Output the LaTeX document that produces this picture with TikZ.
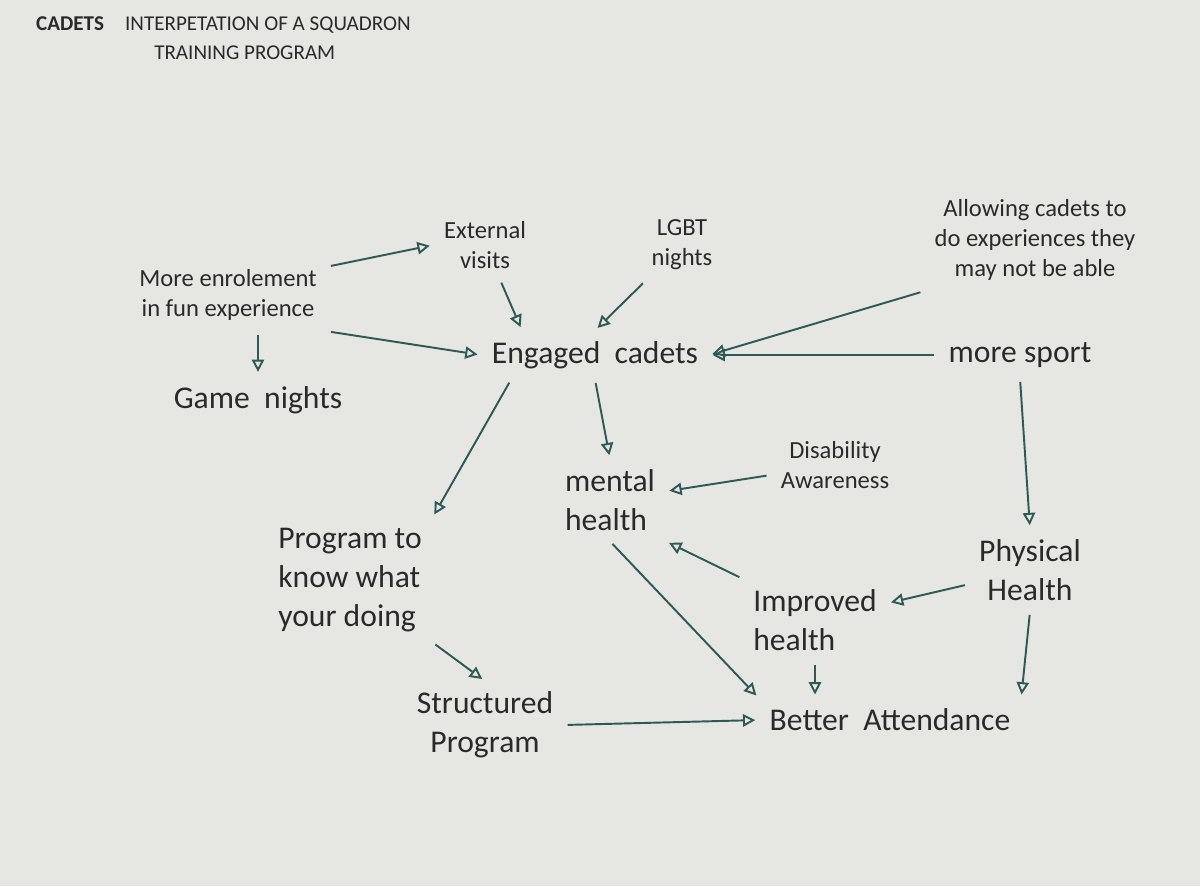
\documentclass[tikz,border=0pt]{standalone}
\usepackage{fontspec}
\setmainfont{Carlito}
\usetikzlibrary{arrows.meta}
\definecolor{paper}{HTML}{E6E6E3}
\definecolor{ink}{HTML}{2E5A55}
\definecolor{pen}{HTML}{2A2A2A}
\tikzset{
  lbl/.style={text=pen,align=center,font=\fontsize{14}{17}\selectfont,inner sep=6pt},
  big/.style={lbl,font=\fontsize{18}{22}\selectfont},
  arr/.style={draw=ink,line width=1.1pt,-{Triangle[open,length=7pt,width=7pt]},shorten >=2pt,shorten <=2pt}
}
\begin{document}
\begin{tikzpicture}[x=0.02cm,y=-0.02cm]
\fill[paper] (0,0) rectangle (1200,886);
\useasboundingbox (0,0) rectangle (1200,886);
\node[anchor=north west,text=pen,font=\fontsize{12}{17}\selectfont,align=left] (title) at (30,10) {\textbf{CADETS}\quad INTERPETATION OF A SQUADRON\\\hspace*{5.6em}TRAINING PROGRAM};
\node[lbl] (enrol) at (228,295) {More enrolement\\in fun experience};
\node[lbl] (ext) at (485,245) {External\\visits};
\node[lbl] (lgbt) at (682,245) {LGBT\\nights};
\node[lbl] (allow) at (1035,240) {Allowing cadets to\\do experiences they\\may not be able};
\node[big] (eng) at (595,355) {Engaged \ cadets};
\node[big] (sport) at (1020,355) {more sport};
\node[big] (game) at (258,400) {Game \ nights};
\node[lbl] (dis) at (835,465) {Disability\\Awareness};
\node[big,align=left] (mental) at (610,500) {mental\\health};
\node[big,align=left] (prog) at (350,580) {Program to\\know what\\your doing};
\node[big] (phys) at (1030,570) {Physical\\Health};
\node[big,align=left] (impr) at (815,620) {Improved\\health};
\node[big] (struct) at (485,725) {Structured\\Program};
\node[big] (better) at (890,720) {Better \ Attendance};
\draw[arr] (enrol.north east) ++(0,8) -- (ext.west);
\draw[arr] (ext) -- (eng.north west -| 522,0);
\draw[arr] (lgbt) -- (eng.north);
\draw[arr] (allow.south west) -- (eng.east);
\draw[arr] (enrol.south east) -- (eng.west);
\draw[arr] (sport) -- (eng);
\draw[arr] (game.north |- enrol.south) -- (game.north);
\draw[arr] (eng.south west) ++(30,0) -- (prog.north east);
\draw[arr] (eng.south) -- (mental.north);
\draw[arr] (dis) -- (mental);
\draw[arr] (sport.south) -- (phys.north);
\draw[arr] (phys) -- (impr);
\draw[arr] (impr.north west) -- (mental.south east);
\draw[arr] (impr.south) -- (better.north -| impr.south);
\draw[arr] (phys.south) -- (better.north east);
\draw[arr] (mental.south) -- (better.north west);
\draw[arr] (prog.south east) -- (struct.north);
\draw[arr] (struct.east) -- (better.west);
\end{tikzpicture}
\end{document}
